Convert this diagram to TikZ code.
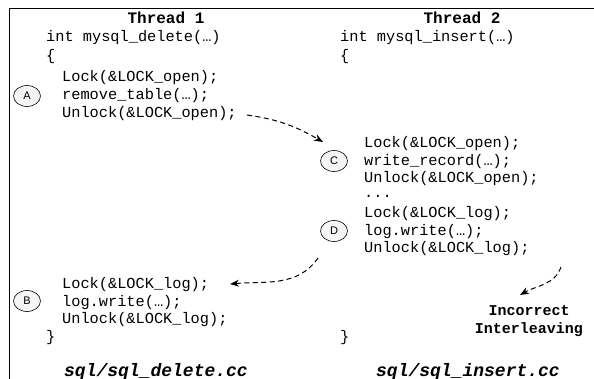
\documentclass[tikz,border=0pt]{standalone}
\usepackage{fontspec}
\setmainfont{Liberation Mono}
\newfontfamily\labelfont{Liberation Sans}
\usetikzlibrary{arrows.meta,shapes.geometric}
\tikzset{
  code/.style={anchor=west,inner sep=0pt,font=\fontsize{15.3}{17}\selectfont},
  head/.style={inner sep=0pt,font=\fontsize{16}{18}\selectfont\bfseries},
  capt/.style={inner sep=0pt,font=\fontsize{18}{20}\selectfont\bfseries\itshape},
  tag/.style={draw,ellipse,fill=gray!8,minimum width=27pt,minimum height=21pt,inner sep=0pt,line width=0.6pt,font=\labelfont\fontsize{11}{13}\selectfont},
  flow/.style={dash pattern=on 5pt off 3.5pt,line width=1pt,-{Stealth[length=9pt,width=7pt]}},
}
\begin{document}
\begin{tikzpicture}[x=1pt,y=-1pt]
\useasboundingbox (0,0) rectangle (594,379);
\draw[line width=1pt] (9,379) -- (9,9) -- (594,9);
% Thread 1
\node[head] (t1) at (166,18) {Thread 1};
\node[code] (f1) at (46,38) {int mysql\_delete(…)};
\node[code] (o1) at (46,57) {\{};
\node[code] (a1) at (62,78) {Lock(\&LOCK\_open);};
\node[code] (a2) at (62,96) {remove\_table(…);};
\node[code] (a3) at (62,114) {Unlock(\&LOCK\_open);};
\node[tag] (A) at (27,96) {A};
\node[code] (b1) at (62,285) {Lock(\&LOCK\_log);};
\node[code] (b2) at (62,302.5) {log.write(…);};
\node[code] (b3) at (62,320) {Unlock(\&LOCK\_log);};
\node[code] (c1) at (46,338) {\}};
\node[tag] (B) at (27,301) {B};
\node[capt] (s1) at (156,372) {sql/sql\_delete.cc};
% Thread 2
\node[head] (t2) at (462,18) {Thread 2};
\node[code] (f2) at (340,38) {int mysql\_insert(…)};
\node[code] (o2) at (340,57) {\{};
\node[code] (d1) at (364,144) {Lock(\&LOCK\_open);};
\node[code] (d2) at (364,161.5) {write\_record(…);};
\node[code] (d3) at (364,179) {Unlock(\&LOCK\_open);};
\node[code] (d4) at (364,196.5) {...};
\node[code] (d5) at (364,214) {Lock(\&LOCK\_log);};
\node[code] (d6) at (364,231.5) {log.write(…);};
\node[code] (d7) at (364,249) {Unlock(\&LOCK\_log);};
\node[tag] (C) at (334,161) {C};
\node[tag] (D) at (334,231) {D};
\node[code] (c2) at (340,338) {\}};
\node[head,align=center,font=\fontsize{15}{18}\selectfont\bfseries] (ii) at (529,321) {Incorrect\\Interleaving};
\node[capt] (s2) at (468,372) {sql/sql\_insert.cc};
% arrows
\coordinate (p1) at (247,115);
\coordinate (q1) at (323,142);
\coordinate (p2) at (318,258);
\coordinate (q2) at (230,284);
\coordinate (p3) at (561,267);
\coordinate (q3) at (520,295);
\draw[flow] (p1) to[out=-8,in=150] (q1);
\draw[flow] (p2) to[out=-125,in=5] (q2);
\draw[flow] (p3) to[out=-110,in=30] (q3);
\end{tikzpicture}
\end{document}
